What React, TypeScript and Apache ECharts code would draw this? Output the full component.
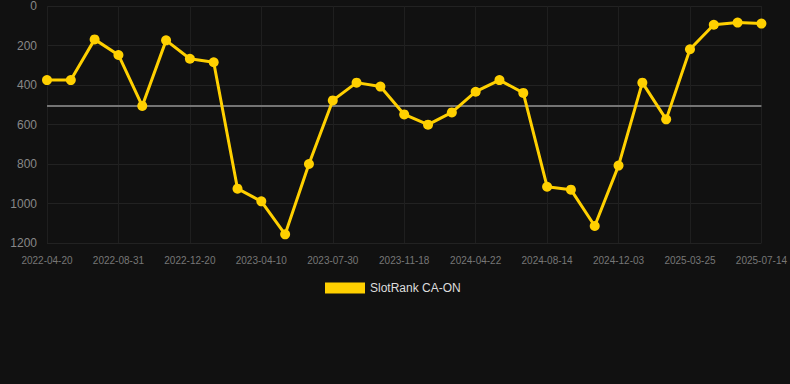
import React, { useEffect, useRef } from "react";
import * as echarts from "echarts";

const dates: string[] = [
  "2022-04-20", "2022-05-27", "2022-07-24", "2022-08-31", "2022-10-07", "2022-11-13",
  "2022-12-20", "2023-01-26", "2023-03-04", "2023-04-10", "2023-05-17", "2023-06-23",
  "2023-07-30", "2023-09-05", "2023-10-12", "2023-11-18", "2024-01-09", "2024-03-01",
  "2024-04-22", "2024-05-30", "2024-07-07", "2024-08-14", "2024-09-20", "2024-10-27",
  "2024-12-03", "2025-01-09", "2025-02-16", "2025-03-25", "2025-05-01", "2025-06-07",
  "2025-07-14",
];

const ranks: number[] = [
  375, 375, 169, 248, 506, 174, 267, 285, 925, 989, 1156, 800, 478, 388, 408, 549,
  601, 539, 434, 375, 440, 915, 930, 1114, 808, 388, 574, 219, 95, 84, 89,
];

const seriesName = "SlotRank CA-ON";
const fontFamily = "Liberation Sans, Arial, sans-serif";

export default function App() {
  const ref = useRef<HTMLDivElement>(null);
  useEffect(() => {
    if (!ref.current) return;
    const chart = echarts.init(ref.current, undefined, { renderer: "svg" });
    chart.setOption({
      animation: false,
      backgroundColor: "#111111",
      grid: { left: 47, right: 28, top: 6, bottom: 141, containLabel: false },
      legend: {
        data: [seriesName],
        top: 277,
        left: 320,
        itemWidth: 40,
        itemHeight: 11,
        itemGap: 10,
        icon: "rect",
        textStyle: { color: "#dddddd", fontSize: 12, fontFamily },
      },
      xAxis: {
        type: "category",
        data: dates,
        boundaryGap: false,
        axisLine: { show: false },
        axisTick: { show: false },
        axisLabel: {
          interval: 2,
          color: "#777777",
          fontSize: 10,
          margin: 12,
          fontFamily,
        },
        splitLine: { show: true, interval: 2, lineStyle: { color: "#1f1f1f", width: 1 } },
      },
      yAxis: {
        type: "value",
        inverse: true,
        min: 0,
        max: 1200,
        interval: 200,
        axisLine: { show: false },
        axisTick: { show: false },
        axisLabel: {
          color: "#888888",
          fontSize: 12,
          margin: 10,
          fontFamily,
          formatter: (v: number) => String(v),
        },
        splitLine: { show: true, lineStyle: { color: "#222222", width: 1 } },
      },
      series: [
        {
          name: seriesName,
          type: "line",
          data: ranks,
          z: 3,
          symbol: "circle",
          symbolSize: 10,
          itemStyle: { color: "#ffd000" },
          lineStyle: { color: "#ffd000", width: 3 },
          markLine: {
            silent: true,
            z: 1,
            symbol: ["none", "none"],
            label: { show: false },
            lineStyle: { color: "#747474", width: 2, type: "solid" },
            data: [{ type: "average" }],
          },
        },
      ],
    });
    return () => chart.dispose();
  }, []);
  return (
    <div
      ref={ref}
      style={{ position: "absolute", left: 0, top: 0, width: 790, height: 384 }}
    />
  );
}
